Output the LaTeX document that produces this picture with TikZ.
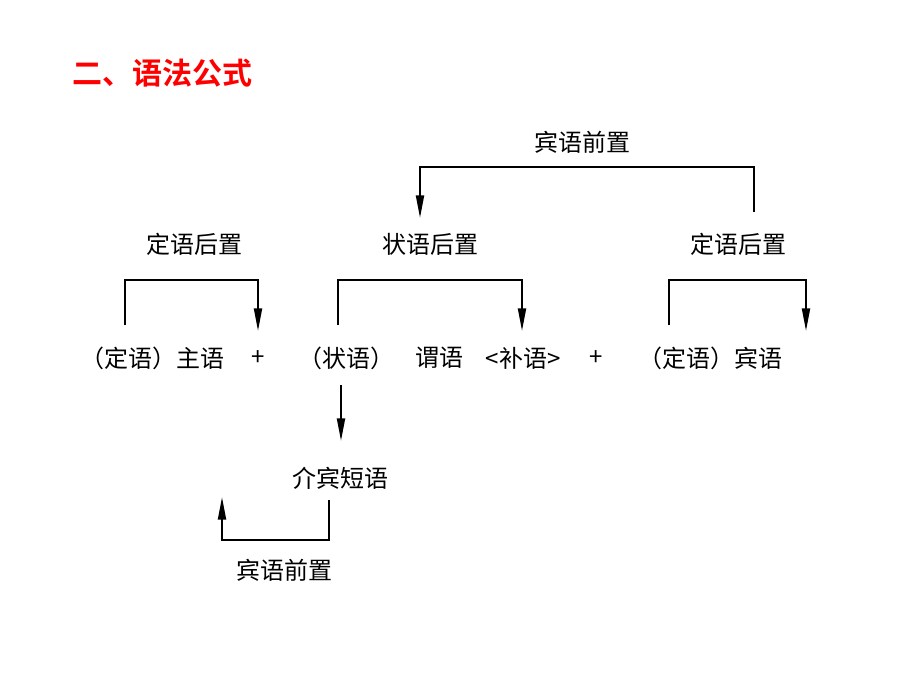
\documentclass[tikz,border=0pt]{standalone}
\usepackage{fontspec}
\usepackage{tikz}
\usetikzlibrary{arrows.meta}
\newfontfamily\cjk{Noto Sans CJK SC}[BoldFont={Noto Sans CJK SC Bold}]
\tikzset{
  lbl/.style={font=\cjk\fontsize{18}{20}\selectfont, inner sep=0pt},
  link/.style={line width=1.5pt},
  arr/.style={link, -{Triangle[length=17pt,width=6pt]}}
}

\begin{document}
\begin{tikzpicture}[x=0.75pt, y=-0.75pt]
		%%%%% START %%%%%
		\useasboundingbox (0, 0) rectangle (920, 690);
		
		\node[anchor=west, inner sep=0pt, text=red, font=\cjk\bfseries\fontsize{22.5}{24}\selectfont] (title) at (72, 73) {二、语法公式};
		
		\node[lbl] (topbq) at (582, 142) {宾语前置};
		\node[lbl] (leftdh) at (194, 244) {定语后置};
		\node[lbl] (midzh) at (430, 244) {状语后置};
		\node[lbl] (rightdh) at (738, 244) {定语后置};
		
		\node[lbl, anchor=west] (subj) at (80, 358) {（定语）主语};
		\node[lbl] (plusa) at (258, 358) {+};
		\node[lbl, anchor=west] (advl) at (298, 358) {（状语）};
		\node[lbl] (pred) at (439, 358) {谓语};
		\node[lbl] (compl) at (523, 358) {<补语>};
		\node[lbl] (plusb) at (596, 358) {+};
		\node[lbl, anchor=west] (obj) at (638, 358) {（定语）宾语};
		
		\node[lbl] (prepph) at (340, 478) {介宾短语};
		\node[lbl] (botbq) at (284, 570) {宾语前置};
		
		% bracket ends
		\coordinate (ta) at (754, 212);
		\coordinate (tb) at (420, 218);
		\coordinate (la) at (125, 325);
		\coordinate (lb) at (258, 331);
		\coordinate (ma) at (338, 325);
		\coordinate (mb) at (522, 331);
		\coordinate (ra) at (669, 325);
		\coordinate (rb) at (806, 331);
		\coordinate (pa) at (341, 385);
		\coordinate (pb) at (341, 441);
		\coordinate (ba) at (329, 500);
		\coordinate (bb) at (222, 497);
		
		\draw[arr] (ta) -- (754, 167) -- (420, 167) -- (tb);
		\draw[arr] (la) -- (125, 280) -- (258, 280) -- (lb);
		\draw[arr] (ma) -- (338, 280) -- (522, 280) -- (mb);
		\draw[arr] (ra) -- (669, 280) -- (806, 280) -- (rb);
		\draw[arr] (pa) -- (pb);
		\draw[arr] (ba) -- (329, 540) -- (222, 540) -- (bb);
		
		%%%%% END %%%%%
	\end{tikzpicture}
\end{document}
